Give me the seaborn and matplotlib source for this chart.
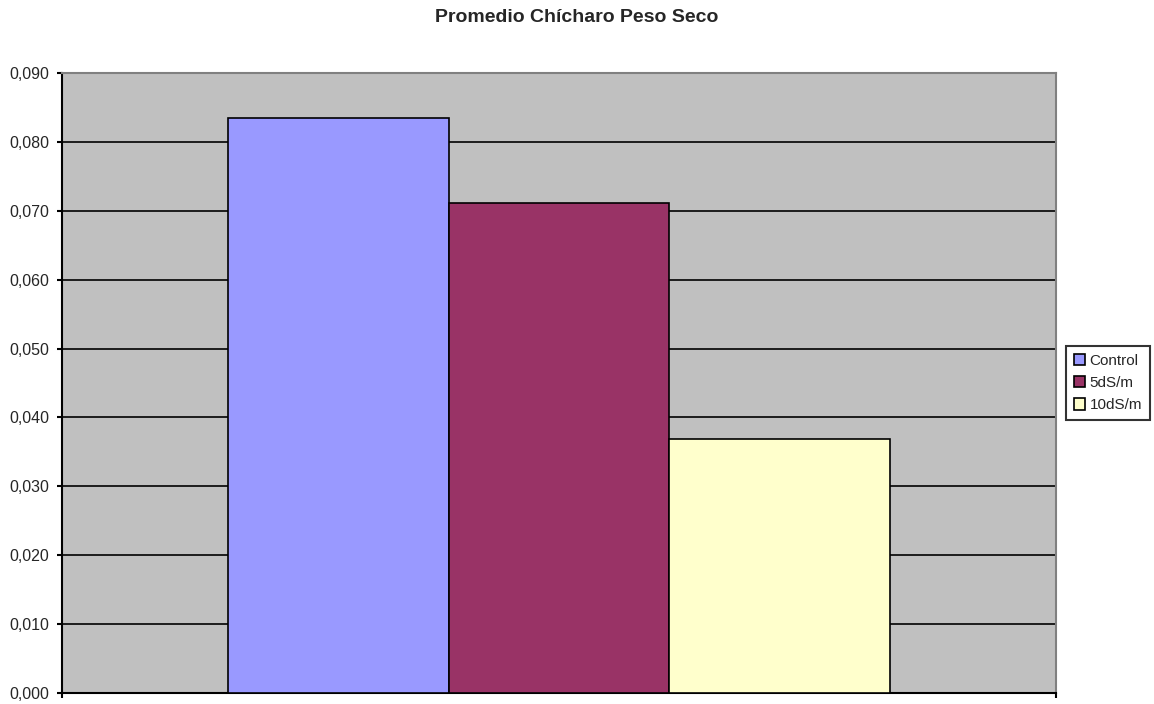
import matplotlib
matplotlib.use("Agg")
import matplotlib.pyplot as plt
import seaborn as sns
import pandas as pd
from matplotlib.patches import Patch
from matplotlib.ticker import FuncFormatter, MultipleLocator

categories = ["Promedio"]
series = ["Control", "5dS/m", "10dS/m"]
values = [0.0835, 0.0711, 0.0369]
colors = ["#9999FF", "#993366", "#FFFFCC"]
title = "Promedio Chícharo Peso Seco"

df = pd.DataFrame({"cat": categories * len(series), "serie": series, "valor": values})

sns.set_style("white")
plt.rcParams['font.family'] = ['Liberation Sans', 'DejaVu Sans']

fig = plt.figure(figsize=(11.54, 7.04), dpi=100)
ax = fig.add_axes([62/1154, 11/704, 994/1154, 620/704])
ax.set_facecolor("#C0C0C0")

sns.barplot(data=df, x="cat", y="valor", hue="serie", hue_order=series,
            palette=colors, width=0.666, gap=0, edgecolor="black", linewidth=1.2,
            saturation=1, ax=ax, legend=False, zorder=3)

ax.set_xlim(-0.5, 0.5)
ax.set_ylim(0, 0.09)
ax.yaxis.set_major_locator(MultipleLocator(0.01))
ax.yaxis.set_major_formatter(FuncFormatter(lambda v, p: f"{v:.3f}".replace(".", ",")))
ax.grid(axis="y", color="black", linewidth=1.2, zorder=0)
ax.set_axisbelow(True)
ax.set_xticks([-0.5, 0.5])
ax.set_xticklabels(["", ""])
ax.set_xlabel("")
ax.set_ylabel("")
ax.tick_params(axis="y", direction="out", length=3.8, width=1.5, color="black", labelsize=11.5, pad=5.5, left=True)
ax.tick_params(axis="x", direction="out", length=3.8, width=1.5, color="black", bottom=True)
for s in ["left", "bottom"]:
    ax.spines[s].set_color("black")
    ax.spines[s].set_linewidth(1.5)
for s in ["top", "right"]:
    ax.spines[s].set_color("#808080")
    ax.spines[s].set_linewidth(1.5)

fig.text(0.5, 1 - 18/704, title, ha="center", va="center", fontsize=14, fontweight="bold")

handles = [Patch(facecolor=c, edgecolor="black", linewidth=1.2) for c in colors]
leg = fig.legend(handles, series, loc="center left", bbox_to_anchor=(1066/1154, 1 - 383/704),
                 frameon=True, fancybox=False, edgecolor="black", fontsize=11,
                 handlelength=0.75, handleheight=0.75, handletextpad=0.3, borderpad=0.5,
                 labelspacing=0.55, borderaxespad=0)
leg.get_frame().set_linewidth(1.5)

fig.savefig("out.png", dpi=100, facecolor="white")
